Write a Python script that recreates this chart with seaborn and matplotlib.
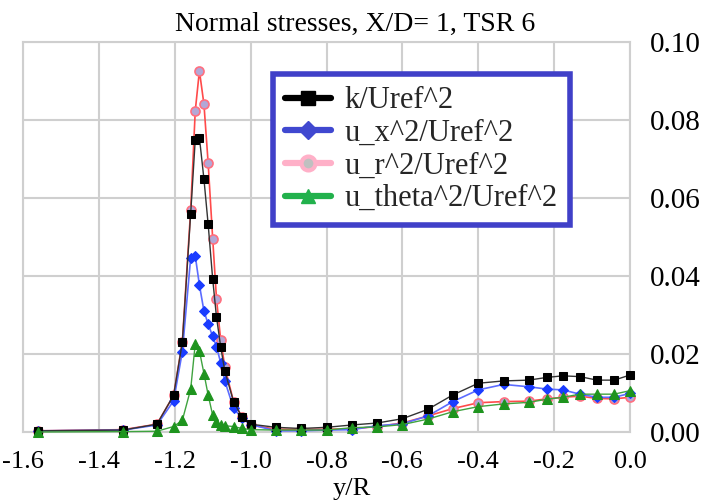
import matplotlib
matplotlib.use("Agg")
import matplotlib.pyplot as plt
import seaborn as sns
import pandas as pd
from matplotlib.lines import Line2D

y_over_R = [-1.56, -1.336, -1.247, -1.203, -1.180, -1.158, -1.146, -1.135, -1.123, -1.112,
            -1.100, -1.090, -1.079, -1.068, -1.045, -1.023, -1.000, -0.933, -0.867, -0.800,
            -0.733, -0.667, -0.600, -0.533, -0.467, -0.400, -0.333, -0.267, -0.219, -0.177,
            -0.132, -0.087, -0.042, 0.000]

k_uref2 = [0.0003, 0.0005, 0.0020, 0.0094, 0.0230, 0.0560, 0.0749, 0.0755, 0.0648, 0.0533,
           0.0392, 0.0295, 0.0219, 0.0156, 0.0078, 0.0039, 0.0020, 0.0012, 0.0009, 0.0012,
           0.0018, 0.0023, 0.0034, 0.0058, 0.0095, 0.0125, 0.0131, 0.0133, 0.0140, 0.0144,
           0.0142, 0.0133, 0.0133, 0.0146]

ux2_uref2 = [0.0003, 0.0005, 0.0018, 0.0080, 0.0206, 0.0447, 0.0452, 0.0377, 0.0310, 0.0277,
             0.0245, 0.0219, 0.0178, 0.0131, 0.0061, 0.0035, 0.0019, 0.0003, 0.0003, 0.0005,
             0.0006, 0.0016, 0.0021, 0.0041, 0.0078, 0.0108, 0.0122, 0.0116, 0.0110, 0.0108,
             0.0097, 0.0089, 0.0089, 0.0099]

ur2_uref2 = [0.0003, 0.0006, 0.0020, 0.0094, 0.0231, 0.0570, 0.0823, 0.0926, 0.0840, 0.0690,
             0.0496, 0.0342, 0.0237, 0.0167, 0.0078, 0.0039, 0.0018, 0.0007, 0.0007, 0.0007,
             0.0008, 0.0014, 0.0023, 0.0041, 0.0060, 0.0075, 0.0078, 0.0079, 0.0085, 0.0089,
             0.0092, 0.0086, 0.0085, 0.0089]

uth2_uref2 = [0.0000, 0.0001, 0.0002, 0.0014, 0.0030, 0.0110, 0.0226, 0.0208, 0.0150, 0.0095,
              0.0043, 0.0025, 0.0019, 0.0016, 0.0014, 0.0009, 0.0006, 0.0005, 0.0005, 0.0005,
              0.0011, 0.0013, 0.0019, 0.0033, 0.0052, 0.0065, 0.0072, 0.0076, 0.0084, 0.0089,
              0.0097, 0.0097, 0.0097, 0.0106]

labels = ["k/Uref^2", "u_x^2/Uref^2", "u_r^2/Uref^2", "u_theta^2/Uref^2"]
x_ticks = [-1.6, -1.4, -1.2, -1.0, -0.8, -0.6, -0.4, -0.2, 0.0]
y_ticks = [0.00, 0.02, 0.04, 0.06, 0.08, 0.10]

sns.set_theme(style="white")
plt.rcParams["font.family"] = ["Liberation Serif", "DejaVu Serif"]

fig = plt.figure(figsize=(7.07, 5.04), dpi=100)
ax = fig.add_axes([23/707, 1 - 432/504, 607/707, 390/504])

df = pd.DataFrame({"x": y_over_R, "k": k_uref2, "ux": ux2_uref2,
                   "ur": ur2_uref2, "uth": uth2_uref2})

# red (u_r) first, then blue, black, green on top
sns.lineplot(data=df, x="x", y="ur", ax=ax, color="#ff4a4a", lw=1.2, marker="o",
             markersize=6.5, markerfacecolor="#b3a7d6", markeredgecolor="#ff6f7f",
             markeredgewidth=1.2, sort=False, legend=False, clip_on=False, zorder=3)
sns.lineplot(data=df, x="x", y="ux", ax=ax, color="#5c6cff", lw=1.2, marker="D",
             markersize=5.5, markerfacecolor="#1a3cff", markeredgecolor="#1a3cff",
             sort=False, legend=False, clip_on=False, zorder=4)
sns.lineplot(data=df, x="x", y="k", ax=ax, color="#333333", lw=1.0, marker="s",
             markersize=6, markerfacecolor="black", markeredgecolor="black",
             sort=False, legend=False, clip_on=False, zorder=5)
sns.lineplot(data=df, x="x", y="uth", ax=ax, color="#3fa33f", lw=1.0, marker="^",
             markersize=6.5, markerfacecolor="#1e941e", markeredgecolor="#1e941e",
             sort=False, legend=False, clip_on=False, zorder=6)

ax.set_xlim(-1.6, 0.0)
ax.set_ylim(0.0, 0.10)
ax.set_xticks(x_ticks)
ax.set_xticklabels([f"{v:.1f}" for v in x_ticks])
ax.set_yticks(y_ticks)
ax.set_yticklabels([f"{v:.2f}" for v in y_ticks])
ax.yaxis.tick_right()
ax.tick_params(axis="y", length=0, pad=14, labelsize=21, labelcolor="black")
ax.tick_params(axis="x", length=0, pad=14, labelsize=19, labelcolor="black")
ax.grid(True, color="#cfcfcf", lw=1.5)
for s in ax.spines.values():
    s.set_color("#cfcfcf")
    s.set_linewidth(1.5)
ax.set_xlabel("y/R", fontsize=19, color="black")
ax.xaxis.set_label_coords(0.542, -0.118)
ax.set_ylabel("")
ax.set_title("Normal stresses, X/D= 1, TSR 6", fontsize=20, pad=8, color="black", x=0.547)

handles = [
    Line2D([], [], color="black", lw=4.5, marker="s", markersize=10),
    Line2D([], [], color="#4048d0", lw=4.5, marker="D", markersize=9),
    Line2D([], [], color="#ffb0c8", lw=4.5, marker="o", markersize=10,
           markerfacecolor="#c0c0c0", markeredgecolor="#ffb0c8", markeredgewidth=3),
    Line2D([], [], color="#22b14c", lw=4.5, marker="^", markersize=10),
]
leg = ax.legend(handles, labels, loc="upper left", bbox_to_anchor=(0.412, 0.918),
                fontsize=22, frameon=True, fancybox=False, framealpha=1,
                edgecolor="#4040c8", handlelength=1.5, handletextpad=0.45,
                labelspacing=0.12, borderpad=0.4, borderaxespad=0)
leg.get_frame().set_linewidth(4)

fig.savefig("out.png", dpi=100)
